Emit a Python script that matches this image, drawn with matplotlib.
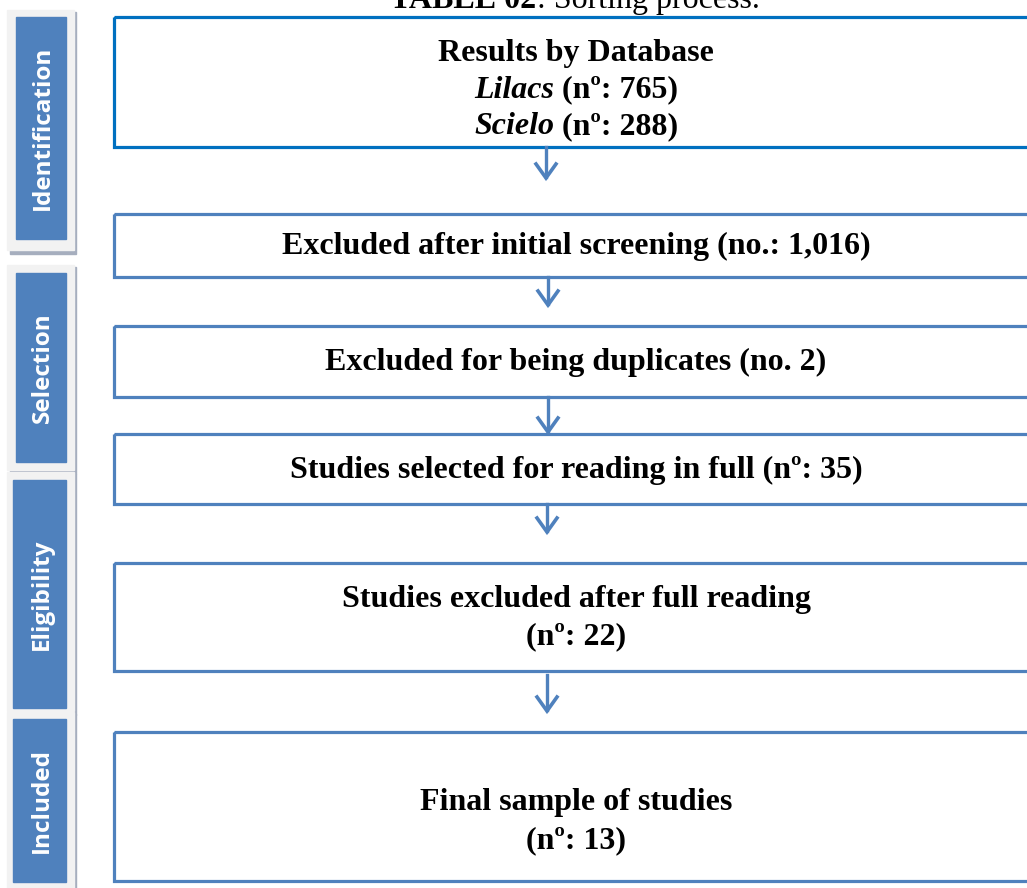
import matplotlib.pyplot as plt
from matplotlib.patches import Rectangle

# stages on the left
stages = ['Identification', 'Selection', 'Eligibility', 'Included']
stage_top = [17, 273, 480, 719]
stage_bottom = [239, 462, 708, 882]

# flow boxes (pixel rows)
box_top = [17, 214, 326, 434, 563, 732]
box_bottom = [147, 277, 397, 504, 671, 881]
box_lines = [
    [('Results by Database', 'bold')],
    [('Excluded after initial screening (no.: 1,016)', 'bold')],
    [('Excluded for being duplicates (no. 2)', 'bold')],
    [('Studies selected for reading in full (nº: 35)', 'bold')],
    [('Studies excluded after full reading', 'bold'), ('(nº: 22)', 'bold')],
    [('Final sample of studies', 'bold'), ('(nº: 13)', 'bold')],
]
databases = ['Lilacs', 'Scielo']
db_counts = [765, 288]

W, H = 1027, 888
fig = plt.figure(figsize=(W / 100, H / 100), dpi=100)
ax = fig.add_axes([0, 0, 1, 1])
ax.set_xlim(0, W)
ax.set_ylim(H, 0)
ax.axis('off')
renderer = fig.canvas.get_renderer()

serif = 'Liberation Serif'
fs = 23
dark_blue = '#0070C0'
blue = '#4F81BD'
text_cx = 576


def mixed(y, parts):
    # parts: list of (text, style, weight); centered on text_cx
    ts = []
    for s, style, weight in parts:
        t = ax.text(0, y, s, fontsize=fs, family=serif, style=style,
                    weight=weight, ha='left', va='center')
        ts.append(t)
    widths = [t.get_window_extent(renderer).width for t in ts]
    x = text_cx - sum(widths) / 2
    for t, w in zip(ts, widths):
        t.set_x(x)
        x += w


# title, cut at the top as in the source
tparts = [('TABLE 02', 'normal', 'bold'), (': Sorting process.', 'normal', 'normal')]
ts = []
for s, style, weight in tparts:
    ts.append(ax.text(0, 8, s, fontsize=fs, family=serif, weight=weight,
                      ha='left', va='baseline'))
widths = [t.get_window_extent(renderer).width for t in ts]
x = text_cx - 1 - sum(widths) / 2
for t, w in zip(ts, widths):
    t.set_x(x)
    x += w

# stage labels with grey frame and shadow
outer = [(10, 252), (265, 472), (472, 713), (712, 895)]
for i, name in enumerate(stages):
    o0, o1 = outer[i]
    ax.add_patch(Rectangle((10, o0 + 2), 66, o1 - o0, color='#A6AEBE', zorder=1))
    ax.add_patch(Rectangle((7, o0), 67, o1 - o0 - 2, color='#F2F2F2', zorder=2))
    x0 = 16 if i < 2 else 13
    ax.add_patch(Rectangle((x0, stage_top[i]), 66 - x0, stage_bottom[i] - stage_top[i],
                           color=blue, zorder=3))
    ax.text((x0 + 66) / 2 + 2, (stage_top[i] + stage_bottom[i]) / 2, name,
            rotation=90, color='white', fontsize=17.5, family='Open Sans',
            weight='bold', ha='center', va='center', zorder=4)

# boxes
for i in range(len(box_top)):
    col = dark_blue if i == 0 else blue
    ax.add_patch(Rectangle((114, box_top[i]), 1040 - 114, box_bottom[i] - box_top[i],
                           fill=False, edgecolor=col, lw=2.3, zorder=2))
    lines = box_lines[i]
    if i == 0:
        ys = [53, 90, 127]
        mixed(ys[0], [(lines[0][0], 'normal', 'bold')])
        for y, db, n in zip(ys[1:], databases, db_counts):
            mixed(y, [(db, 'italic', 'bold'), (f' (nº: {n})', 'normal', 'bold')])
    elif len(lines) == 1:
        mixed((box_top[i] + box_bottom[i]) / 2 + 1, [(lines[0][0], 'normal', 'bold')])
    else:
        mid = (box_top[i] + box_bottom[i]) / 2 + (15 if i == 5 else 1)
        for k, (s, w) in enumerate(lines):
            mixed(mid - 19 + 38 * k, [(s, 'normal', w)])

# arrows between boxes
arrow_x = [546, 548, 548, 547, 547]
arrow_end = [178, 305, 432, 532, 711]
for i in range(len(arrow_end)):
    xa = arrow_x[i]
    y0 = box_bottom[i] if i != 4 else box_bottom[i] + 4
    y1 = arrow_end[i]
    ax.plot([xa, xa], [y0, y1 - 1], color=blue, lw=2.4, zorder=3)
    ax.plot([xa - 10, xa, xa + 10], [y1 - 14, y1, y1 - 14], color=blue, lw=2.6,
            solid_joinstyle='miter', zorder=3)

fig.savefig('out.png', dpi=100)
